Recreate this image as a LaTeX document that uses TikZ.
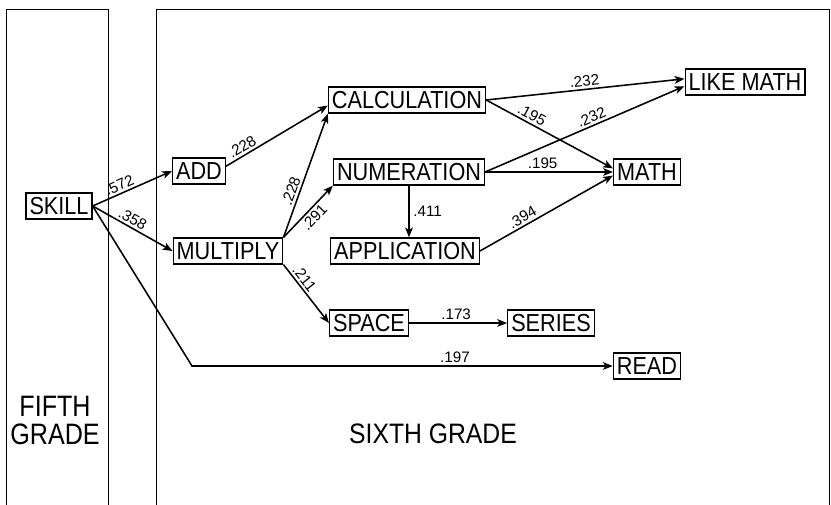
\documentclass[tikz,border=0pt]{standalone}
\usepackage{fontspec}
\setmainfont{Liberation Sans}
\newfontfamily\boxfont{Liberation Sans}[FakeStretch=0.88]
\newfontfamily\gradefont{Liberation Sans}[FakeStretch=0.85]
\usetikzlibrary{arrows.meta}

\begin{document}
\begin{tikzpicture}[x=0.025cm, y=-0.025cm,
        var/.style={draw, line width=0.9pt, inner xsep=2.5pt, inner ysep=0pt, minimum height=18.5pt, font=\boxfont\fontsize{17.5}{18}\selectfont},
        link/.style={-{Stealth[length=7pt,width=5.5pt,inset=1.8pt]}, line width=1.1pt},
        coef/.style={font=\fontsize{10.8}{11}\selectfont, inner sep=1.6pt}]
        \useasboundingbox (0,0) rectangle (831,505);
        % the two grade panels
        \draw[line width=0.5pt] (6,505) |- (108,9) -- (108,505);
        \draw[line width=0.5pt] (156,505) |- (829,9) -- (829,505);
        \node[font=\gradefont\fontsize{21}{19.9}\selectfont, align=center] (fifth) at (55,420) {FIFTH\\GRADE};
        \node[font=\boxfont\fontsize{20}{20}\selectfont] (sixth) at (433,434) {SIXTH GRADE};
        % variables
        \node[var] (skill) at (59,206) {SKILL};
        \node[var] (add) at (199,171) {ADD};
        \node[var] (mult) at (228,251) {MULTIPLY};
        \node[var] (calc) at (407,100) {CALCULATION};
        \node[var] (numer) at (409,172) {NUMERATION};
        \node[var] (appl) at (405,251) {APPLICATION};
        \node[var] (space) at (369,323) {SPACE};
        \node[var] (series) at (551,323) {SERIES};
        \node[var] (math) at (647,172) {MATH};
        \node[var] (like) at (745,82) {LIKE MATH};
        \node[var] (read) at (647,366) {READ};
        \coordinate (bend) at (192,366);
        % paths
        \draw[link] (skill.east) -- (add.west) node[coef, sloped, above, pos=.38] (w572) {.572};
        \draw[link] (skill.east) -- (mult.west) node[coef, sloped, above, pos=.45] (w358) {.358};
        \draw[link] (skill.east) -- (bend) -- (read.west) node[coef, above, pos=.625] (w197) {.197};
        \draw[link] (add.10) -- (calc.184) node[coef, sloped, above, pos=.2] (w228a) {.228};
        \draw[link] (mult.north east) -- (calc.south west) node[coef, sloped, above, pos=.35] (w228b) {.228};
        \draw[link] (mult.north east) -- (numer.south west) node[coef, sloped, below, pos=.5] (w291) {.291};
        \draw[link] (mult.south east) -- (space.west) node[coef, sloped, above, pos=.32] (w211) {.211};
        \draw[link] (numer.south) -- (numer.south |- appl.north) node[coef, midway, right=1pt] (w411) {.411};
        \draw[link] (calc.east) -- (like.177) node[coef, sloped, above, pos=.5] (w232a) {.232};
        \draw[link] (calc.east) -- (math.174) node[coef, sloped, above, pos=.33] (w195a) {.195};
        \draw[link] (numer.east) -- (like.184) node[coef, sloped, above, pos=.55] (w232b) {.232};
        \draw[link] (numer.east) -- (math.west) node[coef, above, pos=.45] (w195b) {.195};
        \draw[link] (appl.east) -- (math.186) node[coef, sloped, above, pos=.35] (w394) {.394};
        \draw[link] (space.east) -- (series.west) node[coef, above, pos=.48] (w173) {.173};
    \end{tikzpicture}
\end{document}
